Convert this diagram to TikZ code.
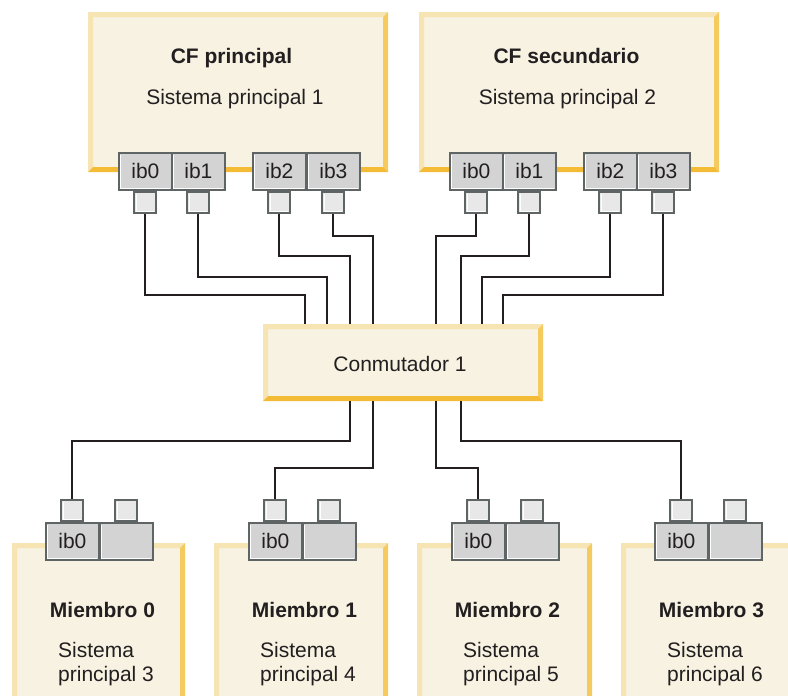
\documentclass[tikz,border=0pt]{standalone}
\usepackage{fontspec}
\setmainfont{Liberation Sans}
\usetikzlibrary{fit}
\definecolor{cream}{HTML}{F7F2E1}
\definecolor{bvlight}{HTML}{F6E4B2}
\definecolor{bvright}{HTML}{F5CA5E}
\definecolor{bvbottom}{HTML}{F3BB36}
\definecolor{portgray}{HTML}{D3D3D3}
\definecolor{sqgray}{HTML}{E8E8E8}
\definecolor{edgegray}{HTML}{5F6464}
\definecolor{ink}{HTML}{231F20}
\tikzset{
  portbox/.style={draw=edgegray, fill=portgray, line width=1.8pt, minimum width=53pt, minimum height=37pt, inner sep=0pt, anchor=north west, text=ink, font=\fontsize{21}{24}\selectfont},
  sqbox/.style={draw=edgegray, fill=sqgray, line width=2pt, minimum width=22pt, minimum height=21pt, inner sep=0pt},
  hilite/.style={draw=white, line width=0.8pt},
  wire/.style={draw=ink, line width=1.9pt},
  ttl/.style={font=\bfseries\fontsize{21}{24}\selectfont, text=ink, inner sep=0pt, anchor=base},
  txt/.style={font=\fontsize{21}{24}\selectfont, text=ink, inner sep=0pt, anchor=base},
  txtw/.style={font=\fontsize{21}{24}\selectfont, text=ink, inner sep=0pt, anchor=base west},
}
% bevelled box: x1 y1 x2 y2 name
\newcommand{\bevelbox}[5]{%
  \fill[cream] (#1,#2) rectangle (#3,#4);
  \fill[bvlight] (#1,#2) -- (#3,#2) -- (#3-5,#2+5) -- (#1+5,#2+5) -- cycle;
  \fill[bvlight] (#1,#2) -- (#1+5,#2+5) -- (#1+5,#4-5) -- (#1,#4) -- cycle;
  \fill[bvright] (#3,#2) -- (#3,#4) -- (#3-5,#4-5) -- (#3-5,#2+5) -- cycle;
  \fill[bvbottom] (#1,#4) -- (#3,#4) -- (#3-5,#4-5) -- (#1+5,#4-5) -- cycle;
  \node[fit={(#1,#2) (#3,#4)}, inner sep=0pt] (#5) {};
}
% port: name x y text
\newcommand{\portbox}[4]{%
  \node[portbox] (#1) at (#2,#3) {#4};
  \draw[hilite] ([xshift=2.5pt,yshift=-3pt]#1.north west) |- ([xshift=-3pt,yshift=2.5pt]#1.south east);
}
% small squares
\newcommand{\sqbelow}[2]{%
  \node[sqbox, anchor=north] (#1) at (#2.south) {};
  \draw[hilite] ([xshift=2.5pt,yshift=-3pt]#1.north west) |- ([xshift=-3pt,yshift=2.5pt]#1.south east);
}
\newcommand{\sqabove}[2]{%
  \node[sqbox, anchor=south] (#1) at (#2.north) {};
  \draw[hilite] ([xshift=2.5pt,yshift=-3pt]#1.north west) |- ([xshift=-3pt,yshift=2.5pt]#1.south east);
}
\begin{document}
\begin{tikzpicture}[x=1pt,y=-1pt]
\useasboundingbox (0,0) rectangle (788,696);
\clip (0,0) rectangle (788,696);
\fill[white] (0,0) rectangle (788,696);

% top boxes
\bevelbox{88}{12}{388}{172}{cfp}
\bevelbox{419}{12}{719}{172}{cfs}
\node[ttl] (cfpt) at (231.5,63) {CF principal};
\node[txt] (cfps) at (235,104) {Sistema principal 1};
\node[ttl] (cfst) at (566.5,63) {CF secundario};
\node[txt] (cfss) at (567.5,104) {Sistema principal 2};

% switch
\bevelbox{263}{324}{543}{401}{sw}
\node[txt] (swt) at (400,371) {Conmutador 1};

% member boxes
\foreach \i/\x/\w in {0/12/173,1/214/174,2/417/175,3/621/174}{
  \bevelbox{\x}{543}{\x+\w}{740}{m\i}
}
\foreach \i/\x/\n in {0/12/3,1/214/4,2/417/5,3/621/6}{
  \node[ttl] (mt\i) at (\x+90.5,617) {Miembro \i};
  \node[txtw] (ms\i) at (\x+46,657) {Sistema};
  \node[txtw] (mp\i) at (\x+46,681) {principal \n};
}

% top ports
\portbox{pa0}{118}{152}{ib0}
\portbox{pa1}{171}{152}{ib1}
\portbox{pa2}{252}{152}{ib2}
\portbox{pa3}{306}{152}{ib3}
\portbox{pb0}{449}{152}{ib0}
\portbox{pb1}{502}{152}{ib1}
\portbox{pb2}{583}{152}{ib2}
\portbox{pb3}{636}{152}{ib3}
\foreach \p in {a0,a1,a2,a3,b0,b1,b2,b3}{\sqbelow{q\p}{p\p}}

% member ports
\foreach \i/\x in {0/45,1/248,2/451,3/654}{
  \portbox{mpa\i}{\x}{522}{ib0}
  \portbox{mpb\i}{\x+54}{522}{}
  \sqabove{mqa\i}{mpa\i}
  \sqabove{mqb\i}{mpb\i}
}

% switch entry coordinates
\coordinate (e1) at (305,0);
\coordinate (e2) at (327,0);
\coordinate (e3) at (350,0);
\coordinate (e4) at (373,0);
\coordinate (e5) at (436,0);
\coordinate (e6) at (461,0);
\coordinate (e7) at (482,0);
\coordinate (e8) at (503,0);

% wires top
\draw[wire] (qa0.south) |- (305,295) -- (sw.north -| e1);
\draw[wire] (qa1.south) |- (327,277) -- (sw.north -| e2);
\draw[wire] (qa2.south) |- (350,256) -- (sw.north -| e3);
\draw[wire] (qa3.south) |- (373,236) -- (sw.north -| e4);
\draw[wire] (qb0.south) |- (436,236) -- (sw.north -| e5);
\draw[wire] (qb1.south) |- (461,256) -- (sw.north -| e6);
\draw[wire] (qb2.south) |- (482,277) -- (sw.north -| e7);
\draw[wire] (qb3.south) |- (503,295) -- (sw.north -| e8);

% wires bottom
\draw[wire] (sw.south -| e3) |- (mqa0 |- 0,441) -- (mqa0.north);
\draw[wire] (sw.south -| e4) |- (mqa1 |- 0,468) -- (mqa1.north);
\draw[wire] (sw.south -| e5) |- (mqa2 |- 0,468) -- (mqa2.north);
\draw[wire] (sw.south -| e6) |- (mqa3 |- 0,441) -- (mqa3.north);
\end{tikzpicture}
\end{document}
